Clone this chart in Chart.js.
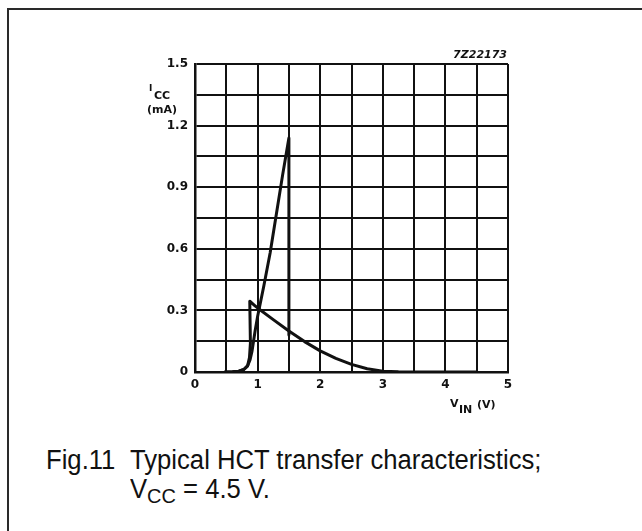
<!DOCTYPE html>
<html><head><meta charset="utf-8">
<script src="https://cdn.jsdelivr.net/npm/chart.js@4.4.1/dist/chart.umd.min.js"></script>
<style>
html,body{margin:0;padding:0;background:#fff;}
#wrap{position:relative;width:642px;height:531px;overflow:hidden;background:#fff;}
#frame{position:absolute;left:7px;top:8px;width:660px;height:560px;border-top:2px solid #2a2a2a;border-left:2px solid #2a2a2a;}
canvas{position:absolute;left:0;top:0;}
.cap{position:absolute;font-family:"Liberation Sans",Arial,sans-serif;font-size:27px;color:#111;line-height:1;white-space:nowrap;transform:scaleX(0.95);transform-origin:0 0;}
.cap sub{font-size:21px;vertical-align:-5px;line-height:0;}
</style></head><body>
<div id="wrap">
<div id="frame"></div>
<canvas id="c" width="642" height="430"></canvas>
<div class="cap" style="left:46px;top:447px">Fig.11</div>
<div class="cap" style="left:130px;top:447px">Typical HCT transfer characteristics;</div>
<div class="cap" style="left:130px;top:476px">V<sub>CC</sub> = 4.5 V.</div>
</div>
<script>
// ---- data ----
const xTickValues = [0,0.5,1,1.5,2,2.5,3,3.5,4,4.5,5];
const xTickLabels = ['0','','1','','2','','3','','4','','5'];
const yTickValues = [0,0.15,0.3,0.45,0.6,0.75,0.9,1.05,1.2,1.35,1.5];
const yTickLabels = ['0','','0.3','','0.6','','0.9','','1.2','','1.5'];

// curve with tall spike up to 1.5 V, then drop
const curve1Vin = [0.48,0.6,0.7,0.78,0.84,0.88,0.91,0.935,0.96,1.0,1.1,1.2,1.3,1.4,1.5,1.5];
const curve1Icc = [0,0.001,0.004,0.012,0.03,0.06,0.1,0.15,0.2,0.27,0.42,0.58,0.77,0.96,1.14,0.18];
// curve with jump at ~0.88 V, then decaying tail
const curve2Vin = [0.48,0.6,0.7,0.78,0.84,0.87,0.885,0.875,0.95,1.0,1.25,1.5,1.75,2.0,2.25,2.5,2.75,3.0,3.25,3.5,4.0,4.5];
const curve2Icc = [0,0.001,0.004,0.012,0.03,0.07,0.14,0.345,0.325,0.312,0.255,0.2,0.148,0.103,0.066,0.037,0.016,0.004,0.001,0,0,0];

const figCode = '7Z22173';
const yLabelMain = 'I', yLabelSub = 'CC', yLabelUnit = '(mA)';
const xLabelMain = 'V', xLabelSub = 'IN', xLabelUnit = '(V)';

const toPts = (xs, ys) => xs.map((x, i) => ({x: x, y: ys[i]}));
const INK = '#111';
const tickFont = {family: '"DejaVu Sans", sans-serif', size: 12, weight: 'bold'};

const extraText = {
  id: 'extraText',
  afterDraw(chart) {
    const ctx = chart.ctx, a = chart.chartArea;
    ctx.save();
    ctx.fillStyle = INK;
    ctx.textBaseline = 'alphabetic';
    // figure code
    ctx.font = 'italic bold 11px "DejaVu Sans", sans-serif';
    ctx.textAlign = 'right';
    ctx.fillText(figCode, a.right - 1, a.top - 6);
    // y axis title
    ctx.textAlign = 'left';
    ctx.font = 'bold 9px "DejaVu Sans", sans-serif';
    ctx.fillText(yLabelMain, a.left - 46, a.top + 27);
    ctx.font = 'bold 11px "DejaVu Sans", sans-serif';
    ctx.fillText(yLabelSub, a.left - 41, a.top + 35);
    ctx.textAlign = 'right';
    ctx.fillText(yLabelUnit, a.left - 18, a.top + 49);
    // x axis title
    ctx.textAlign = 'left';
    ctx.font = 'bold 11px "DejaVu Sans", sans-serif';
    ctx.fillText(xLabelMain, a.right - 58, a.bottom + 35);
    ctx.fillText(xLabelSub, a.right - 49, a.bottom + 41);
    ctx.fillText(xLabelUnit, a.right - 31, a.bottom + 36);
    ctx.restore();
  }
};

new Chart(document.getElementById('c'), {
  type: 'scatter',
  data: {
    datasets: [
      {data: toPts(curve1Vin, curve1Icc), showLine: true, borderColor: INK, borderWidth: 3, pointRadius: 0, tension: 0, fill: false, borderJoinStyle: 'round', borderCapStyle: 'round'},
      {data: toPts(curve2Vin, curve2Icc), showLine: true, borderColor: INK, borderWidth: 3, pointRadius: 0, tension: 0, fill: false, borderJoinStyle: 'round', borderCapStyle: 'round'}
    ]
  },
  options: {
    responsive: false,
    animation: false,
    events: [],
    layout: {padding: {left: 155, top: 64, right: 134, bottom: 28}},
    plugins: {legend: {display: false}, tooltip: {enabled: false}, title: {display: false}},
    scales: {
      x: {
        type: 'linear', min: 0, max: 5,
        afterFit: s => { s.height = 30; },
        afterBuildTicks: s => { s.ticks = xTickValues.map(v => ({value: v})); },
        ticks: {autoSkip: false, maxRotation: 0, padding: 6, color: INK, font: tickFont,
                callback: (v, i) => xTickLabels[i]},
        grid: {color: INK, lineWidth: 2, drawTicks: false},
        border: {display: true, color: INK, width: 2.5}
      },
      y: {
        type: 'linear', min: 0, max: 1.5,
        afterFit: s => { s.width = 40; },
        afterBuildTicks: s => { s.ticks = yTickValues.map(v => ({value: v})); },
        ticks: {autoSkip: false, padding: 7, color: INK, font: tickFont,
                callback: (v, i) => yTickLabels[i]},
        grid: {color: INK, lineWidth: 2, drawTicks: false},
        border: {display: true, color: INK, width: 2.5}
      }
    }
  },
  plugins: [extraText]
});
</script>
</body></html>
